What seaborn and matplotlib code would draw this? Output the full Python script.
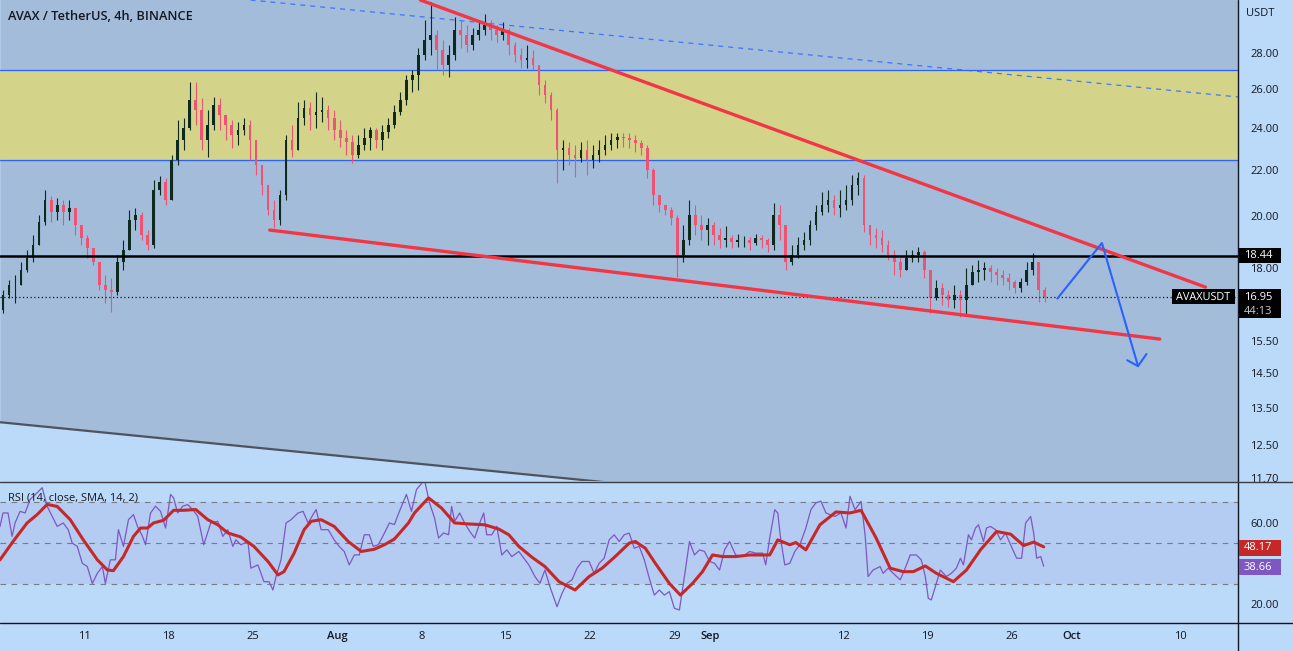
import numpy as np
import pandas as pd
import matplotlib
matplotlib.use("Agg")
import matplotlib.pyplot as plt
import seaborn as sns
from matplotlib.lines import Line2D
from matplotlib.patches import Rectangle
from matplotlib.ticker import FixedLocator, FixedFormatter, NullLocator, NullFormatter

# ---------------- data (AVAX/USDT, 12h candles) ----------------
first_open = 16.50
closes = [17.03, 17.37, 17.37, 17.92, 18.37, 18.86, 19.77, 20.69, 20.19, 20.48,
          20.19, 20.35, 19.65, 19.14, 18.75, 18.21, 17.37, 17.20, 17.13, 18.21,
          18.67, 19.85, 20.06, 19.25, 18.86, 21.12, 21.46, 20.69, 22.46, 23.40,
          23.99, 25.40, 24.89, 23.40, 24.14, 25.14, 24.63, 24.14, 23.64, 23.89,
          24.14, 23.40, 22.23, 21.33, 20.27, 19.85, 20.90, 23.40, 22.92, 24.48,
          24.99, 24.63, 24.79, 24.89, 24.48, 23.89, 23.50, 23.31, 22.69, 23.16,
          23.50, 23.89, 23.40, 23.79, 24.14, 24.79, 25.40, 26.47, 26.74, 27.86,
          28.73, 29.03, 28.15, 27.30, 27.86, 29.33, 29.03, 28.44, 29.03, 29.33,
          29.63, 29.33, 29.03, 29.33, 28.44, 27.86, 27.58, 27.69, 27.30, 26.20,
          25.66, 24.89, 22.92, 23.01, 22.69, 22.55, 22.92, 22.46, 22.69, 22.92,
          23.16, 23.40, 23.55, 23.50, 23.40, 23.26, 23.01, 22.00, 20.90, 20.48,
          20.27, 19.93, 18.48, 19.06, 20.06, 19.65, 19.45, 19.65, 19.25, 19.06,
          19.14, 18.98, 19.06, 19.06, 18.94, 19.14, 19.06, 18.86, 20.06, 19.65,
          18.21, 18.48, 18.86, 19.06, 19.65, 20.19, 20.48, 20.69, 20.35, 20.48,
          20.69, 21.33, 21.64, 19.65, 19.25, 19.14, 18.86, 18.48, 18.21, 17.92,
          18.37, 18.48, 18.59, 17.92, 16.92, 17.27, 17.02, 16.85, 17.02, 16.85,
          17.37, 17.85, 17.92, 17.99, 17.85, 17.73, 17.62, 17.48, 17.27, 17.48,
          17.92, 18.21, 17.20, 16.95]
highs = [17.20, 17.55, 17.73, 18.21, 18.67, 19.25, 20.06, 21.12, 20.86, 20.78,
         20.69, 20.69, 20.35, 19.65, 19.25, 18.75, 18.21, 17.73, 17.62, 18.48,
         19.06, 20.27, 20.35, 20.19, 19.45, 21.55, 21.73, 21.64, 22.69, 24.38,
         24.48, 26.36, 26.36, 25.50, 24.89, 25.56, 25.50, 24.63, 24.38, 24.28,
         24.48, 24.38, 23.40, 22.23, 21.33, 20.69, 21.12, 23.64, 24.14, 25.30,
         25.40, 25.30, 25.83, 25.56, 25.14, 24.89, 24.38, 23.89, 23.64, 23.64,
         23.99, 24.04, 23.99, 24.14, 24.48, 25.14, 25.83, 26.74, 27.02, 28.26,
         29.94, 31.06, 29.33, 28.73, 28.44, 30.12, 29.94, 29.63, 29.45, 29.82,
         30.31, 29.94, 29.63, 29.82, 29.45, 28.61, 28.26, 28.44, 28.15, 27.30,
         26.47, 25.83, 24.99, 23.40, 23.31, 23.16, 23.31, 23.40, 23.16, 23.40,
         23.64, 23.74, 23.74, 23.74, 23.74, 23.64, 23.40, 23.16, 22.09, 20.90,
         20.48, 20.40, 20.06, 19.65, 20.69, 20.48, 20.06, 19.93, 19.77, 19.53,
         19.61, 19.25, 19.29, 19.21, 19.17, 19.29, 19.25, 19.14, 20.56, 20.48,
         19.65, 18.86, 19.17, 19.37, 19.85, 20.48, 21.03, 21.12, 20.90, 21.12,
         21.33, 21.77, 21.91, 21.77, 19.65, 19.53, 19.45, 19.06, 18.67, 18.37,
         18.67, 18.67, 18.79, 18.67, 17.92, 17.55, 17.44, 17.20, 17.37, 17.20,
         17.99, 18.10, 18.29, 18.21, 18.10, 17.99, 17.92, 17.81, 17.55, 17.62,
         18.21, 18.55, 18.21, 17.30]
lows = [16.40, 16.92, 16.74, 17.37, 17.85, 18.21, 18.86, 19.65, 19.77, 19.85,
        19.65, 19.85, 19.25, 18.86, 18.37, 18.10, 17.20, 16.74, 16.43, 17.02,
        17.92, 18.67, 19.45, 19.06, 18.67, 18.75, 20.90, 20.48, 20.69, 22.23,
        22.92, 23.89, 24.14, 22.92, 22.60, 23.89, 23.89, 23.40, 23.01, 23.16,
        23.64, 22.46, 21.77, 20.90, 20.06, 19.53, 19.65, 20.69, 22.60, 22.92,
        24.14, 23.89, 23.99, 24.28, 23.89, 23.40, 23.06, 22.69, 22.32, 22.55,
        22.92, 22.92, 23.01, 22.92, 23.50, 23.99, 24.63, 25.14, 25.83, 25.93,
        27.58, 27.86, 27.02, 26.74, 26.63, 27.58, 28.26, 28.03, 28.15, 28.73,
        29.03, 28.73, 28.61, 28.73, 27.86, 27.47, 27.13, 27.13, 27.02, 25.66,
        25.24, 24.38, 21.42, 22.00, 22.23, 21.68, 22.37, 21.77, 22.09, 22.37,
        22.69, 22.92, 23.01, 23.06, 23.01, 22.83, 22.69, 21.64, 20.48, 20.19,
        20.06, 19.65, 17.66, 18.21, 18.86, 19.25, 19.06, 18.86, 18.86, 18.75,
        18.79, 18.75, 18.79, 18.79, 18.67, 18.86, 18.75, 18.59, 18.67, 19.06,
        17.92, 18.10, 18.37, 18.67, 18.86, 19.45, 20.06, 20.19, 20.06, 19.97,
        20.27, 20.48, 20.90, 19.37, 18.86, 18.75, 18.59, 18.29, 17.73, 17.66,
        17.99, 18.21, 18.21, 17.62, 16.40, 16.85, 16.68, 16.61, 16.58, 16.27,
        16.33, 17.37, 17.48, 17.55, 17.48, 17.37, 17.37, 17.20, 17.10, 17.13,
        17.37, 17.73, 16.78, 16.78]

# RSI(14) and its SMA(14), hours since Jul 4 00:00
rsi_hours = [0, 6, 16, 24, 30, 40, 50, 60, 74, 84, 94, 104, 114, 126, 136, 144, 154, 164, 174, 184,
             194, 204, 210, 220, 230, 236, 246, 256, 266, 274, 284, 290, 300, 310, 320, 330, 340, 346, 354, 364,
             374, 384, 394, 406, 420, 434, 444, 454, 464, 470, 480, 494, 500, 514, 526, 536, 544, 550, 560, 570,
             580, 594, 604, 614, 630, 640, 654, 666, 676, 686, 696, 706, 716, 726, 736, 744, 754, 766, 776, 786, 796,
             800, 810, 820, 830, 846, 856, 866, 874, 884, 894, 900, 906, 916, 926, 936, 946, 956, 964, 970, 980,
             990, 1000, 1010, 1020, 1034, 1044, 1054, 1066, 1076, 1086, 1096, 1110, 1120, 1130, 1140, 1150, 1160, 1174, 1184, 1194,
             1204, 1214, 1224, 1234, 1244, 1254, 1264, 1274, 1284, 1294, 1304, 1314, 1324, 1334, 1344, 1354, 1364, 1374, 1384, 1394,
             1404, 1414, 1424, 1434, 1444, 1454, 1466, 1480, 1494, 1506, 1520, 1526, 1534, 1544, 1550, 1556, 1564, 1574, 1584, 1594,
             1606, 1616, 1626, 1636,
             1646, 1664, 1676, 1686, 1694, 1704, 1716, 1724, 1730, 1740, 1754, 1760, 1770, 1780, 1794, 1804, 1814, 1826, 1836, 1844,
             1850, 1856, 1866, 1874, 1886, 1896, 1906, 1914, 1920, 1930, 1936, 1944, 1950, 1960, 1966, 1974, 1984, 1994, 2004, 2014,
             2026, 2036, 2044, 2054, 2060, 2066, 2074, 2080]
rsi_vals = [58.2, 64.8, 64.8, 53.3, 59.9, 65.6, 64.8, 71.4, 74.7, 77.2, 68.1, 63.2, 58.2, 59.9, 56.6, 50, 48.4, 40.1, 38.5, 30.2,
            35.2, 38.5, 30.2, 41.8, 41.8, 56.6, 48.4, 61.5, 64, 58.2, 53.3, 49.2, 64.8, 68.1, 65.6, 57.4, 73.9, 72.2, 64.8, 68.1,
            68.9, 66.5, 63.2, 49.2, 59.9, 60.7, 53.3, 56.6, 48.4, 51.6, 49.2, 50.8, 37.7, 39.3, 31.1, 31.1, 27, 33.5, 41.8, 59.9,
            61.5, 64.8, 65.6, 59.9, 66.5, 56.6, 56.6, 51.6, 48.4, 45.9, 39.3, 44.2, 44.2, 54.1, 54.1, 48.4, 49.2, 54.9, 59.9, 59.1, 65.6,
            68, 73.9, 65.6, 76.3, 81, 69.7, 62.3, 52.5, 55, 54.1, 68, 60.7, 64.8, 59.9, 55.8, 52.5, 59.9, 64.8, 54.1, 54.1,
            58.2, 44.2, 46.7, 43.4, 45.9, 42.6, 39.3, 33.6, 30.3, 36.8, 28.6, 18.8, 25.3, 30.3, 32, 37.7, 41, 41, 35.2, 40.1,
            42.6, 51.6, 54.1, 50.8, 54.1, 54.9, 47.5, 48.4, 41.8, 32.7, 24.5, 27, 24.5, 26.2, 18, 17.2, 33.6, 50.8, 44.2, 46.7,
            45.9, 41, 40.1, 36.8, 46.7, 50.8, 44.2, 43.4, 45.9, 45.1, 45.1, 39.3, 52.5, 66.4, 64.8, 51.6, 39.3, 40.1, 45.9, 49.2,
            57.4, 66.4, 69.8, 70.6,
            64.8, 63.1, 64.8, 57.4, 73, 66.4, 70.5, 54.1, 33.6, 36.8, 38.5, 35.2, 37.7, 35.2, 32, 37.7, 44.2, 44.2, 41.8, 33.6,
            22.9, 22.1, 30.3, 36.8, 33.6, 35.2, 37.7, 42.6, 39.3, 54.1, 51.6, 57.4, 59, 50.8, 57.4, 58.2, 56.6, 51.6, 54.9, 49.2,
            42.6, 42.6, 59.9, 63.1, 54.9, 42.6, 43.4, 38.66]
sma_hours = [0, 26, 54, 74, 94, 114, 140, 166, 194, 214, 226, 246, 266, 280, 294, 306, 326, 346, 366, 390,
             414, 434, 454, 480, 506, 534, 554, 566, 586, 606, 620, 640, 666, 694, 720, 746, 766, 786, 814, 826,
             854, 880, 906, 934, 966, 994, 1014, 1034, 1060, 1086, 1114, 1146, 1174, 1200, 1226, 1254, 1266, 1286, 1306, 1334,
             1356, 1380, 1400, 1420, 1440, 1466, 1494, 1534, 1550, 1574, 1586, 1606, 1634, 1666, 1694, 1716, 1746, 1774, 1800, 1820,
             1844, 1866, 1900, 1926, 1954, 1986, 2014, 2040, 2060, 2080]
sma_vals = [41.8, 50.8, 59.9, 64, 69, 68, 61.5, 51.6, 41.8, 36.8, 36.5, 43.4, 53.3, 57.4, 57.4, 59.9, 61.2, 66.1, 66.1, 66.5,
            61.5, 59, 55, 53, 48.4, 41, 34.4, 36, 45, 56.6, 60.7, 61.5, 58.2, 50.8, 45.9, 47, 49.2, 52, 59.9, 64.8,
            72.2, 67.2, 59.9, 59.4, 59, 56.9, 54.1, 48.4, 43.1, 38.5, 31.1, 27, 33.6, 37.7, 43.4, 50, 50.8, 47.5, 40.1, 30.2,
            24.5, 30.2, 36, 44.2, 43.4, 43.4, 44.2, 44.2, 51.6, 49.2, 50.3, 46.7, 59, 65.3, 64.8, 66.1, 52.5, 37.7, 36, 36,
            38.8, 35.2, 31.1, 36.8, 46.7, 55.7, 54.4, 48.8, 50.5, 48.17]

price_ticks = [28, 26, 24, 22, 20, 18, 15.5, 14.5, 13.5, 12.5, 11.7]
rsi_ticks = [60, 20]
date_days = [7, 14, 21, 28, 35, 42, 49, 56, 59, 70, 77, 84, 89, 98]
date_labels = ["11", "18", "25", "Aug", "8", "15", "22", "29", "Sep", "12", "19", "26", "Oct", "10"]

zone_top, zone_bottom = 27.02, 22.46
key_level = 18.44
last_price = 16.95
last_rsi, last_sma = 38.66, 48.17

# drawings: (day, price) anchors
upper_red_d, upper_red_p = [34.9, 100.1], [31.19, 17.30]
lower_red_d, lower_red_p = [22.4, 96.3], [19.45, 15.55]
arrow_d, arrow_p = [87.8, 91.5, 94.5], [16.90, 18.94, 14.71]
arrow_head_d, arrow_head_p = [93.6, 94.5, 95.2], [14.89, 14.71, 15.08]
dash_d, dash_p = [20.8, 102.8], [31.19, 25.56]
gray_d, gray_p = [0.0, 102.8], [13.11, 10.19]

# ---------------- styling ----------------
sns.set_style("white")
plt.rcParams['font.family'] = ['Open Sans', 'DejaVu Sans']

BG = "#bbd9f8"
PANEL = "#a3bcd9"
YELLOW = "#d3d48a"
TXT = "#131722"
W, H = 1293, 651

def fx(px):
    return px / W

def fy(py):
    return 1 - py / H

fig = plt.figure(figsize=(W / 100, H / 100), dpi=100, facecolor=BG)
ax = fig.add_axes([0, fy(481), fx(1238), 481 / H])
axr = fig.add_axes([0, fy(623), fx(1238), (623 - 482) / H], sharex=ax)

ymin, ymax = 11.62, 31.19
xmax = 102.8

# ---- main panel ----
ax.set_facecolor(BG)
ax.set_yscale('log')
ax.set_ylim(ymin, ymax)
ax.set_xlim(0, xmax)

ax.fill_between(gray_d, gray_p, [ymax * 1.2] * 2, color=PANEL, lw=0, zorder=0)
ax.plot(gray_d, gray_p, color="#50535e", lw=1.6, zorder=1)
ax.axhspan(zone_bottom, zone_top, color=YELLOW, lw=0, zorder=0.5)
ax.axhline(zone_top, color="#2962ff", lw=0.9, zorder=1)
ax.axhline(zone_bottom, color="#2962ff", lw=0.9, zorder=1)
ax.plot(dash_d, dash_p, color="#2962ff", lw=0.9, ls=(0, (4, 4)), zorder=1.5, alpha=0.8)

c = np.array(closes)
o = np.array([first_open] + closes[:-1])
hi = np.maximum.reduce([np.array(highs), o, c])
lo = np.minimum.reduce([np.array(lows), o, c])
days = np.arange(len(c)) * 0.5 + 0.25
up = c >= o
cols = np.where(up, "#0e2a1f", "#ef5373")
ax.vlines(days, lo, hi, colors=cols, lw=0.8, zorder=3)
ax.bar(days, np.abs(c - o), bottom=np.minimum(o, c), width=0.22, color=cols, lw=0, zorder=3)

ax.axhline(key_level, color="black", lw=1.8, zorder=4)
ax.axhline(last_price, color=TXT, lw=0.9, ls=(0, (1, 2)), zorder=4)
ax.plot(upper_red_d, upper_red_p, color="#f23645", lw=2.4, zorder=5, solid_capstyle='round')
ax.plot(lower_red_d, lower_red_p, color="#f23645", lw=2.4, zorder=5, solid_capstyle='round')
ax.plot(arrow_d, arrow_p, color="#2962ff", lw=1.5, zorder=6)
ax.plot(arrow_head_d, arrow_head_p, color="#2962ff", lw=1.5, zorder=6)

ax.yaxis.tick_right()
ax.yaxis.set_major_locator(FixedLocator(price_ticks))
ax.yaxis.set_major_formatter(FixedFormatter([f"{v:.2f}" for v in price_ticks]))
ax.yaxis.set_minor_locator(NullLocator())
ax.yaxis.set_minor_formatter(NullFormatter())
ax.tick_params(axis='y', length=0, pad=9, labelsize=8, labelcolor=TXT)
ax.tick_params(axis='x', length=0, labelbottom=False)
for s in ax.spines.values():
    s.set_visible(False)

ax.text(8 / 1238, 1 - 16 / 481, "AVAX / TetherUS, 4h, BINANCE", transform=ax.transAxes,
        fontsize=9.2, fontweight='semibold', color=TXT, va='center', ha='left')

# ---- RSI panel ----
axr.set_facecolor(BG)
axr.set_ylim(10.8, 80)
axr.axhspan(30, 70, color="#7e57c2", alpha=0.1, lw=0, zorder=0)
for lvl in (70, 50, 30):
    axr.axhline(lvl, color="#787b86", lw=0.8, ls=(0, (5, 5)), zorder=1)
sns.lineplot(x=np.array(rsi_hours) / 24, y=rsi_vals, ax=axr, color="#7e57c2", lw=0.9, zorder=2)
sns.lineplot(x=np.array(sma_hours) / 24, y=sma_vals, ax=axr, color="#c62828", lw=2.2, zorder=3)
axr.set_xlim(0, xmax)
axr.set_xlabel("")
axr.set_ylabel("")
axr.yaxis.tick_right()
axr.set_yticks(rsi_ticks)
axr.set_yticklabels([f"{v:.2f}" for v in rsi_ticks])
axr.tick_params(axis='y', length=0, pad=9, labelsize=8, labelcolor=TXT)
axr.set_xticks(date_days)
axr.set_xticklabels(date_labels)
axr.tick_params(axis='x', length=0, pad=6, labelsize=8, labelcolor=TXT)
for lab in axr.get_xticklabels():
    if lab.get_text() in ("Aug", "Sep", "Oct"):
        lab.set_fontweight('semibold')
for s in axr.spines.values():
    s.set_visible(False)
axr.text(8 / 1238, 1 - 16 / 141, "RSI (14, close, SMA, 14, 2)", transform=axr.transAxes,
         fontsize=8, color=TXT, va='center', ha='left')

# ---- frame lines ----
fig.add_artist(Line2D([fx(1238), fx(1238)], [0, 1], color=TXT, lw=1.0))
fig.add_artist(Line2D([0, 1], [fy(482), fy(482)], color="#3a3d46", lw=1.0))
fig.add_artist(Line2D([0, 1], [fy(623), fy(623)], color=TXT, lw=1.0))
fig.text(fx(1246), fy(14), "USDT", fontsize=8, color=TXT, va='center', ha='left')

# ---- price / value boxes ----
def box(x0, y0, x1, y1, color):
    fig.add_artist(Rectangle((fx(x0), fy(y1)), fx(x1) - fx(x0), (y1 - y0) / H,
                             facecolor=color, edgecolor='none', zorder=10))

box(1239, 248, 1281, 263, "black")
fig.text(fx(1244), fy(256), f"{key_level:.2f}", color="white", fontsize=8, va='center', ha='left', zorder=11)
box(1239, 289, 1281, 318, "black")
fig.text(fx(1244), fy(297), f"{last_price:.2f}", color="white", fontsize=8, va='center', ha='left', zorder=11)
fig.text(fx(1244), fy(311), "44:13", color="#c9c9c9", fontsize=8, va='center', ha='left', zorder=11)
box(1172, 289, 1235, 304, "black")
fig.text(fx(1203.5), fy(297), "AVAXUSDT", color="white", fontsize=7.8, va='center', ha='center', zorder=11)
box(1239, 540, 1281, 556, "#c62828")
fig.text(fx(1244), fy(548), f"{last_sma:.2f}", color="white", fontsize=8, va='center', ha='left', zorder=11)
box(1239, 559, 1281, 575, "#7e57c2")
fig.text(fx(1244), fy(567), f"{last_rsi:.2f}", color="white", fontsize=8, va='center', ha='left', zorder=11)

fig.savefig("out.png", dpi=100, facecolor=BG)
